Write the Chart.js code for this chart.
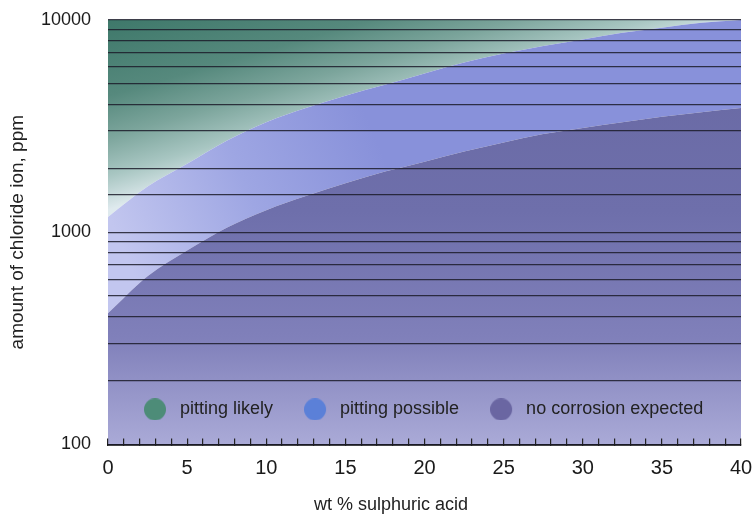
<!DOCTYPE html>
<html>
<head>
<meta charset="utf-8">
<script src="https://cdn.jsdelivr.net/npm/chart.js@4.4.1/dist/chart.umd.min.js"></script>
<style>
html,body{margin:0;padding:0;background:#ffffff;}
#wrap{width:756px;height:523px;position:relative;}
</style>
</head>
<body>
<div id="wrap"><canvas id="c"></canvas></div>
<script>
// ---- data ----
const acidPct = [0, 2.5, 5, 7.5, 10, 12.5, 15, 17.5, 20, 22.5, 25, 27.5, 30, 32.5, 35, 37.5, 40];
// upper edge of each region (ppm chloride)
const pittingLikelyTop   = [10000, 10000, 10000, 10000, 10000, 10000, 10000, 10000, 10000, 10000, 10000, 10000, 10000, 10000, 10000, 10000, 10000];
const pittingPossibleTop = [1180, 1640, 2100, 2700, 3300, 3850, 4400, 4950, 5600, 6300, 6950, 7550, 8100, 8700, 9200, 9700, 10000];
const noCorrosionTop     = [415, 620, 820, 1050, 1270, 1480, 1700, 1930, 2150, 2400, 2650, 2900, 3100, 3300, 3500, 3680, 3850];
const seriesNames = ['pitting likely', 'pitting possible', 'no corrosion expected'];
const yTickLabels = [100, 1000, 10000];
const xTickLabels = [0, 5, 10, 15, 20, 25, 30, 35, 40];

// ---- styles ----
const dotColors = ['#4d8c78', '#5b80d8', '#6a66a2'];
const SANS = '"Liberation Sans", Arial, sans-serif';
const DOT_W = 27, DOT_R = 11;

function makeDot(color) {
  const cv = document.createElement('canvas');
  cv.width = DOT_W; cv.height = DOT_R * 2;
  const c = cv.getContext('2d');
  c.fillStyle = color;
  c.beginPath(); c.arc(DOT_R, DOT_R, DOT_R, 0, Math.PI * 2); c.fill();
  return cv;
}
const dotImages = dotColors.map(makeDot);

function pts(arr) { return acidPct.map((x, i) => ({ x: x, y: arr[i] })); }

function greenFill(ctx) {
  const ch = ctx.chart, a = ch.chartArea;
  if (!a) return '#6a9a8e';
  const W = a.right - a.left, H = a.bottom - a.top;
  const g = ch.ctx.createLinearGradient(a.left, a.top, a.left + 0.08 * W, a.top + 0.413 * H);
  g.addColorStop(0, '#3e786a');
  g.addColorStop(0.4, '#56897d');
  g.addColorStop(0.62, '#7ca59c');
  g.addColorStop(0.82, '#a8c6c2');
  g.addColorStop(1, '#dfeaee');
  return g;
}
function blueFill(ctx) {
  const ch = ctx.chart, a = ch.chartArea;
  if (!a) return '#8c95dc';
  const W = a.right - a.left, H = a.bottom - a.top;
  const g = ch.ctx.createLinearGradient(a.left, a.top + 0.46 * H, a.left + 0.4 * W, a.top + 0.2 * H);
  g.addColorStop(0, '#c2c6ef');
  g.addColorStop(0.5, '#9ea6e3');
  g.addColorStop(1, '#8891da');
  return g;
}
function purpleFill(ctx) {
  const ch = ctx.chart, a = ch.chartArea;
  if (!a) return '#6e6eaa';
  const g = ch.ctx.createLinearGradient(0, a.top, 0, a.bottom);
  g.addColorStop(0, '#6868a2');
  g.addColorStop(0.45, '#6e6fab');
  g.addColorStop(0.75, '#8080ba');
  g.addColorStop(1, '#aaaad7');
  return g;
}

// Legend is drawn by Chart.js but placed inside the plot area, near its bottom-left
const legendInside = {
  id: 'legendInside',
  beforeLayout(chart) {
    const lg = chart.legend;
    if (lg && !lg.__patched) {
      const orig = lg.fit;
      lg.fit = function () { orig.call(this); this.__h = this.height; this.height = 0; };
      lg._layers = function () { return [{ z: 5, draw: (ca) => lg.draw(ca) }]; };
      lg.__patched = true;
    }
  },
  afterLayout(chart) {
    const lg = chart.legend, a = chart.chartArea;
    if (lg) {
      const pad = lg.options.labels.padding;
      lg.left = a.left + 36 - pad;
      lg.right = lg.left + lg.width;
      lg.top = a.bottom - 44 - pad;
      lg.bottom = lg.top + (lg.__h || 0);
    }
    const t = chart.titleBlock;
    if (t) { t.left = 26; t.right = chart.width; }
  }
};

new Chart(document.getElementById('c'), {
  type: 'line',
  data: {
    datasets: [
      { label: seriesNames[2], data: pts(noCorrosionTop), fill: 'start', backgroundColor: purpleFill },
      { label: seriesNames[1], data: pts(pittingPossibleTop), fill: '-1', backgroundColor: blueFill },
      { label: seriesNames[0], data: pts(pittingLikelyTop), fill: '-1', backgroundColor: greenFill }
    ].map(d => Object.assign(d, { borderWidth: 0, pointRadius: 0, cubicInterpolationMode: 'monotone', borderColor: 'rgba(0,0,0,0)' }))
  },
  options: {
    responsive: true,
    maintainAspectRatio: false,
    animation: false,
    events: [],
    layout: { padding: { top: 20, right: 15, left: 0, bottom: 0 } },
    plugins: {
      tooltip: { enabled: false },
      legend: {
        position: 'bottom',
        reverse: true,
        align: 'start',
        labels: {
          usePointStyle: true, pointStyleWidth: DOT_W, boxHeight: 18,
          padding: 31, color: '#222',
          font: { family: SANS, size: 18 },
          generateLabels(chart) {
            const items = Chart.defaults.plugins.legend.labels.generateLabels(chart);
            items.forEach(it => {
              const k = 2 - it.datasetIndex;
              it.pointStyle = dotImages[k];
              it.fillStyle = dotColors[k]; it.strokeStyle = dotColors[k]; it.lineWidth = 0;
            });
            return items;
          }
        }
      },
      title: {
        display: true, position: 'bottom', text: 'wt % sulphuric acid',
        color: '#222', font: { family: SANS, size: 18, weight: 'normal' },
        padding: { top: 0, bottom: 7 }
      }
    },
    scales: {
      x: {
        type: 'linear', min: 0, max: 40,
        afterFit(s) { s.height = 50; s.paddingLeft = 0; s.paddingRight = 0; },
        grid: { display: true, drawOnChartArea: false, drawTicks: true, tickLength: -6, color: '#222', lineWidth: 1.2, z: 1 },
        border: { display: true, color: '#111', width: 1.8, z: 1 },
        ticks: {
          stepSize: 1, autoSkip: false, maxRotation: 0, padding: 18,
          color: '#1a1a1a', font: { family: SANS, size: 20 },
          callback: v => (xTickLabels.includes(v) ? String(v) : '')
        }
      },
      y: {
        type: 'logarithmic', min: 100, max: 10000,
        afterFit(s) { s.width = 108; s.paddingTop = 0; s.paddingBottom = 0; },
        grid: { display: true, drawTicks: false, color: 'rgba(28,28,42,0.85)', lineWidth: 1.3, z: 1 },
        border: { display: false },
        ticks: {
          autoSkip: false, padding: 17, color: '#1a1a1a',
          font: { family: SANS, size: 18 },
          callback: v => (yTickLabels.includes(v) ? String(v) : '')
        },
        title: {
          display: true, text: 'amount of chloride ion, ppm', color: '#222',
          font: { family: SANS, size: 19 }, padding: { top: 6, bottom: 0 }
        }
      }
    }
  },
  plugins: [legendInside]
});
</script>
</body>
</html>
